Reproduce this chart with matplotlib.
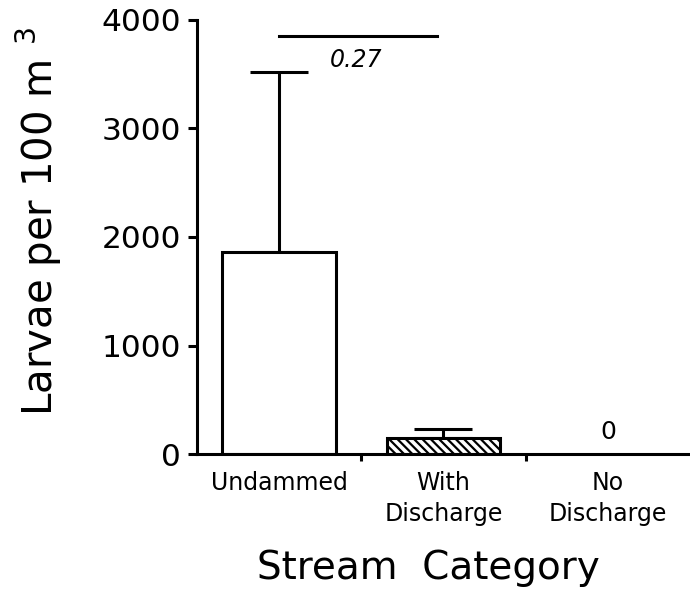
import numpy as np
import matplotlib.pyplot as plt

# Larvae density by stream category
categories = ["Undammed", "With\nDischarge", "No\nDischarge"]
means = [1862, 150, 0]
upper_err = [1660, 80, 0]
hatches = ["", "\\\\\\\\", ""]
p_value = "0.27"

plt.rcParams["hatch.linewidth"] = 1.6
plt.rcParams["font.family"] = "DejaVu Sans"

fig = plt.figure(figsize=(6.9, 6.0), dpi=100)
ax = fig.add_axes([0.2855, 0.2433, 0.7145, 0.7234])

x = np.arange(len(categories))
for i in range(len(categories)):
	if means[i] > 0:
		ax.bar(x[i], means[i], width=0.69, color="white", edgecolor="black",
			linewidth=2.2, hatch=hatches[i], zorder=2)
		ax.errorbar(x[i], means[i], yerr=[[0], [upper_err[i]]], fmt="none",
			ecolor="black", elinewidth=2.2, capsize=21, capthick=2.2, zorder=1)
	else:
		ax.text(x[i], 95, "0", ha="center", va="bottom", fontsize=18)

# significance bar between first two groups
ax.plot([0, 0.96], [3850, 3850], color="black", linewidth=2.2, clip_on=False)
ax.text(0.47, 3740, p_value, ha="center", va="top", fontsize=17, style="italic")

ax.set_xlim(-0.5, 2.5)
ax.set_ylim(0, 4000)
ax.set_yticks([0, 1000, 2000, 3000, 4000])
ax.set_xticks(x)
ax.set_xticklabels(categories, fontsize=17, linespacing=1.4)
ax.set_xticks([0.5, 1.5], minor=True)
ax.tick_params(axis="x", which="major", length=0, pad=12)
ax.tick_params(axis="x", which="minor", length=5, width=2.2, direction="out")
ax.tick_params(axis="y", length=6.5, width=2.2, labelsize=22.5, pad=5)

ax.spines["top"].set_visible(False)
ax.spines["right"].set_visible(False)
ax.spines["left"].set_linewidth(2.2)
ax.spines["bottom"].set_linewidth(2.2)

ax.set_ylabel("Larvae per 100 m $^{3}$", fontsize=29, labelpad=27, y=0.535)
ax.set_xlabel("Stream  Category", fontsize=28, labelpad=16, x=0.47)

fig.savefig("out.png", dpi=100)
